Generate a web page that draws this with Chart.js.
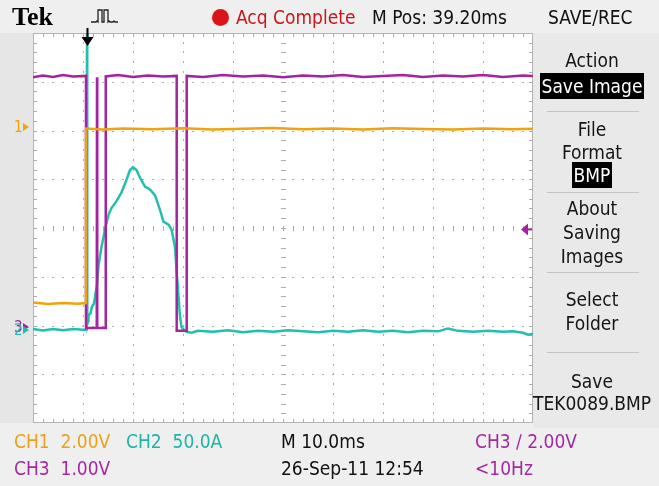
<!DOCTYPE html>
<html>
<head>
<meta charset="utf-8">
<script src="https://cdn.jsdelivr.net/npm/chart.js@4"></script>
<style>
  body { margin: 0; background: #eeeeee; }
  #scope { position: relative; width: 659px; height: 486px; overflow: hidden; background: #efefef;
           font-family: "Liberation Sans Narrow", "DejaVu Sans Condensed", "Arial Narrow", sans-serif; }
  #scope canvas { position: absolute; left: 0; top: 0; }
  #leftStrip { position: absolute; left: 0; top: 33px; width: 33px; height: 390px; background: #e6e6e6; }
  #panel { position: absolute; left: 533px; top: 33px; width: 126px; height: 395px; background: #e9e9e9; }
  .t { position: absolute; white-space: nowrap; line-height: 18px; font-size: 19px; }
  .p { position: absolute; left: 533px; width: 118px; text-align: center; white-space: nowrap;
       line-height: 18px; font-size: 19px; color: #151515; }
  .hl { background: #000; color: #fff; padding: 2px 2px; }
  .sep { position: absolute; left: 547px; width: 92px; height: 1px; background: #c4c4c4; }
  .ch1 { color: #e9a21a; }
  .ch2 { color: #1fb5a6; }
  .ch3 { color: #a52aa0; }
</style>
</head>
<body>
<div id="scope">
  <div id="leftStrip"></div>
  <div id="panel"></div>
  <canvas id="scopeChart" width="659" height="486"></canvas>

  <!-- barra superior -->
  <div class="t" style="left:12px; top:5px; font-family:'Liberation Serif',serif; font-weight:bold; font-size:26px; line-height:24px;">Tek</div>
  <svg style="position:absolute; left:90px; top:7px;" width="30" height="18">
    <path d="M1 15 h5 l1 -1 l1 1 v-12 h4 v12 h2 v-12 h4 v12 l1 -1 l1 1 h3 l1 -1 l1 1 h3" fill="none" stroke="#222" stroke-width="1.3"/>
  </svg>
  <svg style="position:absolute; left:211px; top:8px;" width="19" height="19">
    <circle cx="9.5" cy="9.5" r="8.5" fill="#d9141b"/>
  </svg>
  <div class="t" style="left:236px; top:8px; color:#c8161c;">Acq Complete</div>
  <div class="t" style="left:372px; top:8px; color:#111;">M Pos: 39.20ms</div>
  <div class="t" style="left:548px; top:8px; color:#111;">SAVE/REC</div>

  <!-- menu lateral -->
  <div class="p" style="top:51px;">Action</div>
  <div class="p" style="top:77px;"><span class="hl">Save Image</span></div>
  <div class="sep" style="top:111px;"></div>
  <div class="p" style="top:120px;">File</div>
  <div class="p" style="top:143px;">Format</div>
  <div class="p" style="top:166px;"><span class="hl">BMP</span></div>
  <div class="sep" style="top:192px;"></div>
  <div class="p" style="top:199px;">About</div>
  <div class="p" style="top:223px;">Saving</div>
  <div class="p" style="top:247px;">Images</div>
  <div class="sep" style="top:272px;"></div>
  <div class="p" style="top:290px;">Select</div>
  <div class="p" style="top:314px;">Folder</div>
  <div class="sep" style="top:352px;"></div>
  <div class="p" style="top:372px;">Save</div>
  <div class="p" style="top:394px;">TEK0089.BMP</div>

  <!-- rodapé -->
  <div class="t ch1" style="left:14px; top:432px;">CH1&nbsp;&nbsp;2.00V</div>
  <div class="t ch2" style="left:126px; top:432px;">CH2&nbsp;&nbsp;50.0A</div>
  <div class="t" style="left:281px; top:432px; color:#111;">M 10.0ms</div>
  <div class="t ch3" style="left:475px; top:432px;">CH3 &#x2215; 2.00V</div>
  <div class="t ch3" style="left:14px; top:459px;">CH3&nbsp;&nbsp;1.00V</div>
  <div class="t" style="left:281px; top:459px; color:#111;">26-Sep-11 12:54</div>
  <div class="t ch3" style="left:475px; top:459px;">&lt;10Hz</div>
</div>

<script>
// ==================================================
// 1. DADOS (tempo em ms a partir da borda esquerda)
// ==================================================
const ch1Time = [0, 3, 6, 9, 10.6, 10.6, 14, 18, 24, 30, 36, 42, 48, 54, 60, 66, 72, 78, 84, 90, 96, 100];
const ch1Volt = [-7.2, -7.26, -7.22, -7.25, -7.22, -0.06, -0.1, -0.06, -0.09, -0.05, -0.1, -0.07, -0.04, -0.09, -0.06, -0.1, -0.05, -0.08, -0.1, -0.06, -0.09, -0.07];

const ch2Time = [0, 2, 4, 6, 8, 10, 10.6, 10.75, 10.8, 10.85,
                 11.0, 11.1, 11.5, 11.8, 12.2, 12.4, 12.8, 13.1, 13.7, 14.4,
                 15.1, 15.7, 16.7, 17.7, 18.7, 19.4, 20.0, 20.7, 21.4, 22.4,
                 23.4, 24.4, 25.4, 26.1, 27.1, 27.7, 28.4, 28.7, 29.1, 29.4,
                 29.7, 30.2, 30.7, 31.7,
                 33, 36, 39, 42, 45, 48, 51, 54, 57, 60,
                 63, 66, 69, 72, 75, 78, 81, 83, 85, 88,
                 91, 94, 96, 98, 99, 100];
const ch2Amp = [0.8, -0.5, 1.0, -0.3, 0.9, 0.2, 0.5, 1, 330, 6,
                9, 15, 17, 24, 27, 34, 46, 66, 85, 103,
                118, 125, 132, 141, 154, 164, 167, 164, 156, 147,
                144, 138, 123, 111, 108, 103, 85, 62, 34, 14,
                3, 0, -2, -3,
                -1, -2, -0.5, -2.5, -1, -2, -0.5, -1.5, -2.5, -1,
                -2, -0.5, -2, -1, -2.5, -1, -1.5, 1.5, -1, -2,
                -1, -2, -1.5, -3, -5, -4];

const ch3Time = [0, 2, 4, 6, 8, 10.6, 10.6, 12.75, 12.8, 12.85, 14.55, 14.55, 17, 20, 23, 26, 28.74, 28.74, 30.74, 30.74,
                 34, 38, 42, 46, 50, 54, 58, 62, 66, 70, 74, 78, 82, 86, 90, 94, 98, 100];
const ch3Volt = [5.12, 5.16, 5.13, 5.17, 5.14, 5.15, -0.02, -0.02, 5.12, -0.02, -0.02, 5.14, 5.17, 5.13, 5.16, 5.14, 5.15, -0.08, -0.08, 5.15,
                 5.13, 5.17, 5.14, 5.16, 5.12, 5.16, 5.14, 5.17, 5.13, 5.15, 5.17, 5.13, 5.16, 5.14, 5.17, 5.13, 5.16, 5.15];

// escalas por divisão e posição do terra (divisões a partir do centro)
const perDiv = [2, 50, 1];            // CH1 V/div, CH2 A/div, CH3 V/div
const groundPos = [2.07, -2.09, -2.03];
const timePerDiv = 10;                // ms/div
const triggerTime = 10.8;             // ms
const ch3TriggerLevel = 2.0;          // V
const colors = ['#f0a30e', '#22bfae', '#a4239f'];

// ==================================================
// 2. PLUGINS (graticule e marcadores)
// ==================================================
const graticule = {
  id: 'graticule',
  beforeDatasetsDraw(chart) {
    const { ctx, chartArea: a, scales } = chart;
    const x = scales.x, d = scales.div;
    ctx.save();
    ctx.fillStyle = '#ffffff';
    ctx.fillRect(a.left, a.top, a.right - a.left, a.bottom - a.top);
    ctx.fillStyle = '#adadad';
    // linhas pontilhadas
    for (let k = 1; k < 10; k++) {
      const px = Math.round(x.getPixelForValue(k * timePerDiv));
      for (let j = 1; j < 40; j++) {
        const py = Math.round(d.getPixelForValue(-4 + j * 0.2));
        if (k === 5) ctx.fillRect(px - 2, py, 5, 1);
        else ctx.fillRect(px, py - 1, 1, 2);
      }
    }
    for (let m = -3; m <= 3; m++) {
      const py = Math.round(d.getPixelForValue(m));
      for (let i = 1; i < 50; i++) {
        const px = Math.round(x.getPixelForValue(i * timePerDiv / 5));
        if (m === 0) ctx.fillRect(px, py - 2, 1, 5);
        else ctx.fillRect(px - 1, py, 2, 1);
      }
    }
    // borda com marcas
    ctx.strokeStyle = '#b4b4b4';
    ctx.lineWidth = 1;
    ctx.strokeRect(a.left + 0.5, a.top + 0.5, a.right - a.left - 1, a.bottom - a.top - 1);
    for (let i = 1; i < 50; i++) {
      const px = Math.round(x.getPixelForValue(i * timePerDiv / 5));
      ctx.fillRect(px, a.top, 1, 4);
      ctx.fillRect(px, a.bottom - 4, 1, 4);
    }
    for (let j = 1; j < 40; j++) {
      const py = Math.round(d.getPixelForValue(-4 + j * 0.2));
      ctx.fillRect(a.left, py, 4, 1);
      ctx.fillRect(a.right - 4, py, 4, 1);
    }
    ctx.restore();
  },
  afterDatasetsDraw(chart) {
    const { ctx, chartArea: a, scales } = chart;
    ctx.save();
    // marcador do trigger no topo
    const tx = Math.round(scales.x.getPixelForValue(triggerTime)) + 0.5;
    ctx.strokeStyle = '#000';
    ctx.fillStyle = '#000';
    ctx.lineWidth = 2;
    ctx.beginPath(); ctx.moveTo(tx, a.top - 5); ctx.lineTo(tx, a.top + 6); ctx.stroke();
    ctx.beginPath(); ctx.moveTo(tx - 6, a.top + 4); ctx.lineTo(tx + 6, a.top + 4); ctx.lineTo(tx, a.top + 13); ctx.closePath(); ctx.fill();
    // nível de trigger do CH3 à direita
    const ly = scales.y3.getPixelForValue(ch3TriggerLevel);
    ctx.fillStyle = colors[2];
    ctx.strokeStyle = colors[2];
    ctx.beginPath(); ctx.moveTo(a.right - 12, ly); ctx.lineTo(a.right - 5, ly - 6); ctx.lineTo(a.right - 5, ly + 6); ctx.closePath(); ctx.fill();
    ctx.lineWidth = 2;
    ctx.beginPath(); ctx.moveTo(a.right - 7, ly); ctx.lineTo(a.right - 1, ly); ctx.stroke();
    // marcadores de terra à esquerda
    ctx.font = '15px "Liberation Sans Narrow", "DejaVu Sans Condensed", sans-serif';
    ctx.textBaseline = 'middle';
    ['3', '1', '2'].forEach(n => {
      const i = Number(n) - 1;
      const gy = scales['y' + n].getPixelForValue(0);
      ctx.fillStyle = colors[i];
      ctx.fillText(n, 14, gy + 1);
      ctx.beginPath(); ctx.moveTo(23, gy - 4); ctx.lineTo(29, gy); ctx.lineTo(23, gy + 4); ctx.closePath(); ctx.fill();
    });
    ctx.restore();
  }
};

// ==================================================
// 3. GRÁFICO
// ==================================================
function toPoints(t, v) {
  return t.map((ti, i) => ({ x: ti, y: v[i] }));
}

function channelAxis(i) {
  return {
    type: 'linear', axis: 'y', position: 'left', display: false,
    min: (-4 - groundPos[i]) * perDiv[i],
    max: (4 - groundPos[i]) * perDiv[i]
  };
}

const trace = (label, data, axis, color) => ({
  label, data, yAxisID: axis,
  showLine: true, borderColor: color, borderWidth: 2.5,
  pointRadius: 0, tension: 0
});

new Chart(document.getElementById('scopeChart'), {
  type: 'scatter',
  data: {
    datasets: [
      trace('CH1', toPoints(ch1Time, ch1Volt), 'y1', colors[0]),
      trace('CH3', toPoints(ch3Time, ch3Volt), 'y3', colors[2]),
      trace('CH2', toPoints(ch2Time, ch2Amp), 'y2', colors[1])
    ]
  },
  options: {
    responsive: false,
    animation: false,
    layout: { padding: { left: 33, top: 33, right: 126, bottom: 63 } },
    plugins: { legend: { display: false }, tooltip: { enabled: false } },
    scales: {
      x: { type: 'linear', axis: 'x', position: 'bottom', display: false, min: 0, max: 10 * timePerDiv },
      div: { type: 'linear', axis: 'y', position: 'left', display: false, min: -4, max: 4 },
      y1: channelAxis(0),
      y2: channelAxis(1),
      y3: channelAxis(2)
    }
  },
  plugins: [graticule]
});
</script>
</body>
</html>
